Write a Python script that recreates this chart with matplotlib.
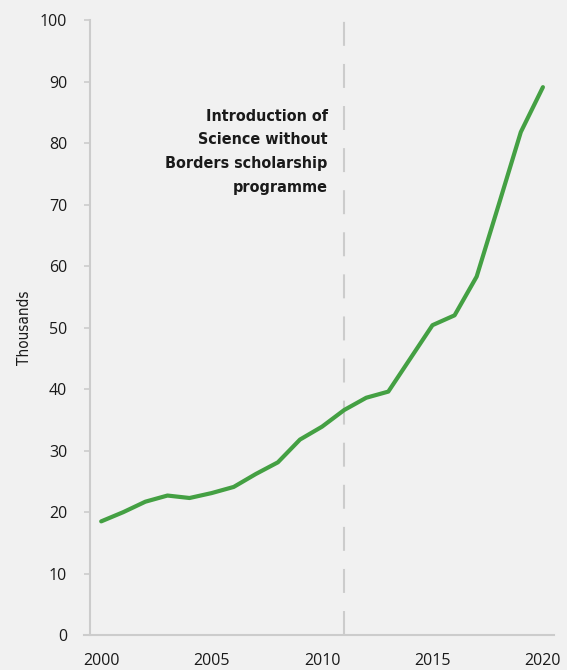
import matplotlib.pyplot as plt

# Brazilian students abroad, thousands
years = [2000, 2001, 2002, 2003, 2004, 2005, 2006, 2007, 2008, 2009, 2010,
         2011, 2012, 2013, 2014, 2015, 2016, 2017, 2018, 2019, 2020]
students = [18.5, 20.0, 21.7, 22.7, 22.3, 23.1, 24.1, 26.2, 28.1, 31.8, 33.9,
            36.6, 38.6, 39.6, 45.0, 50.4, 52.0, 58.3, 70.0, 81.8, 89.1]
xticks = [2000, 2005, 2010, 2015, 2020]
yticks = [0, 10, 20, 30, 40, 50, 60, 70, 80, 90, 100]
event_year = 2011
event_label = "Introduction of\nScience without\nBorders scholarship\nprogramme"

BG = '#f1f1f1'
GREY = '#cccccc'
GREEN = '#44a043'

fig = plt.figure(figsize=(5.67, 6.70), dpi=100, facecolor=BG)
ax = fig.add_axes([0.159, 0.052, 0.818, 0.918], facecolor=BG)

ax.plot(years, students, color=GREEN, lw=3, solid_capstyle='round',
        solid_joinstyle='round', zorder=3)
ax.axvline(event_year, color=GREY, lw=1.5, linestyle=(0, (11.5, 8.7)), zorder=2)

ax.text(event_year - 0.75, 85.6, event_label, ha='right', va='top',
        fontsize=11.5, fontweight='bold', fontstretch='condensed',
        linespacing=1.72, color='#1a1a1a', family=['DejaVu Sans'])

ax.set_xlim(1999.5, 2020.5)
ax.set_ylim(0, 100)
ax.set_xticks(xticks)
ax.set_yticks(yticks)

for s in ['top', 'right']:
    ax.spines[s].set_visible(False)
for s in ['left', 'bottom']:
    ax.spines[s].set_color(GREY)
    ax.spines[s].set_linewidth(1.5)
# bottom axis line runs under the y tick marks, as in the original
ax.spines['bottom'].set_bounds(1999.23, 2020.5)

ax.tick_params(axis='y', length=4.5, width=1.2, color=GREY, pad=12,
               labelsize=11.5, labelcolor='#1a1a1a')
ax.tick_params(axis='x', length=0, pad=13, labelsize=11.5, labelcolor='#1a1a1a')
for lab in ax.get_xticklabels() + ax.get_yticklabels():
    lab.set_family('Open Sans')

ax.set_ylabel('Thousands', fontsize=11, color='#1a1a1a', family='DejaVu Sans',
              fontstretch='condensed', labelpad=6)

fig.savefig('out.png', dpi=100, facecolor=BG)
